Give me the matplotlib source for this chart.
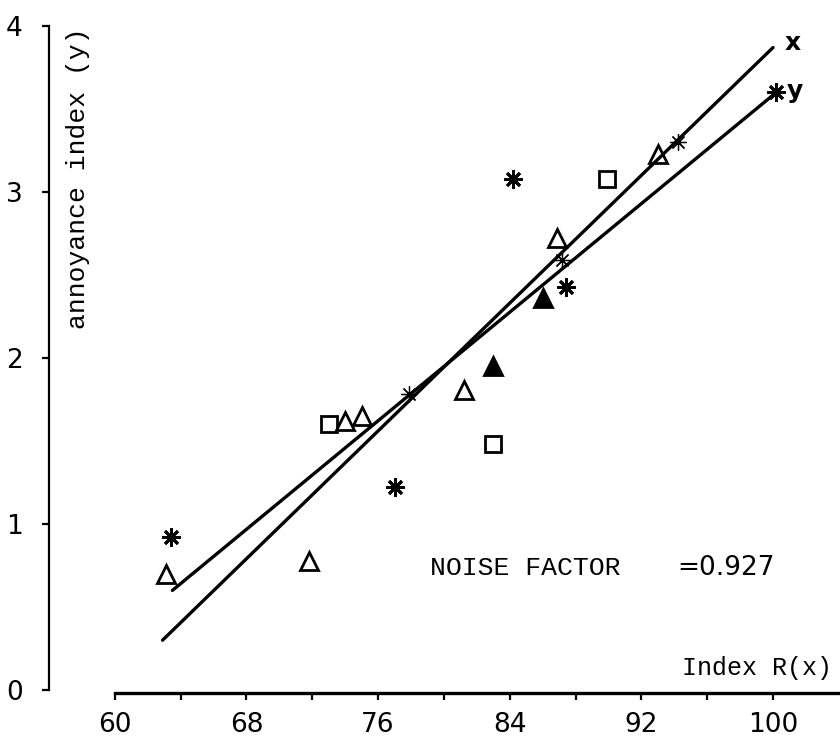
import matplotlib
matplotlib.use("Agg")
import matplotlib.pyplot as plt

# points
tri_x = [63.1, 71.8, 74.0, 75.0, 81.2, 86.9, 93.0]
tri_y = [0.70, 0.78, 1.62, 1.65, 1.81, 2.72, 3.23]
tri_fill_x = [83.0, 86.0]
tri_fill_y = [1.95, 2.36]
sq_x = [73.0, 83.0, 89.9]
sq_y = [1.60, 1.48, 3.08]
star_x = [63.4, 77.0, 84.2, 87.4, 100.2]
star_y = [0.92, 1.22, 3.08, 2.43, 3.60]
star_lt_x = [77.9, 87.2, 94.2]
star_lt_y = [1.78, 2.59, 3.30]

# the two fitted lines
line_x_x = [62.9, 100.0]
line_x_y = [0.30, 3.87]
line_y_x = [63.5, 100.2]
line_y_y = [0.60, 3.60]

xticks = [60, 64, 68, 72, 76, 80, 84, 88, 92, 96, 100]
xticklabels = ["60", "", "68", "", "76", "", "84", "", "92", "", "100"]
yticks = [0, 1, 2, 3, 4]

fig = plt.figure(figsize=(8.4, 7.41), dpi=100)
ax = fig.add_axes([49 / 840, 1 - 693 / 741, 791 / 840, 683 / 741])
ax.set_xlim(56.0, 104.07)
ax.set_ylim(-0.018, 4.096)

ax.plot(line_x_x, line_x_y, color="black", lw=2.4, solid_capstyle="round")
ax.plot(line_y_x, line_y_y, color="black", lw=2.4, solid_capstyle="round")

ax.plot(tri_x, tri_y, ls="none", marker="^", ms=13, mfc="none", mec="black", mew=2)
ax.plot(tri_fill_x, tri_fill_y, ls="none", marker="^", ms=13, mfc="black", mec="black", mew=2)
ax.plot(sq_x, sq_y, ls="none", marker="s", ms=12, mfc="none", mec="black", mew=2)
ax.plot(star_x, star_y, ls="none", marker=(8, 2, 0), ms=13, mec="black", mew=2)
ax.plot(star_lt_x, star_lt_y, ls="none", marker=(8, 2, 0), ms=12, mec="black", mew=0.9)

for s in ["top", "right"]:
    ax.spines[s].set_visible(False)
ax.spines["left"].set_bounds(0, 4)
ax.spines["left"].set_linewidth(1.6)
ax.spines["bottom"].set_bounds(60, 104.07)
ax.spines["bottom"].set_linewidth(2.4)

ax.set_xticks(xticks)
ax.set_xticklabels(xticklabels)
ax.set_yticks(yticks)
ax.tick_params(axis="x", direction="out", length=5, width=1.6, pad=9, labelsize=19)
ax.tick_params(axis="y", direction="out", length=5, width=1.6, pad=14, labelsize=19)

mono = "Liberation Mono"
ax.text(57.75, 3.08, "annoyance index (y)", rotation=90, ha="center", va="center",
        family=mono, fontsize=19)
ax.text(94.45, 0.133, "Index R(x)", ha="left", va="center", family=mono, fontsize=18)
ax.text(79.15, 0.735, "NOISE FACTOR", ha="left", va="center", family=mono, fontsize=19)
ax.text(94.2, 0.735, "=0.927", ha="left", va="center", fontsize=19)
ax.text(101.2, 3.90, "x", ha="center", va="center", fontsize=18, fontweight="bold")
ax.text(101.3, 3.61, "y", ha="center", va="center", fontsize=18, fontweight="bold")

fig.savefig("out.png", dpi=100)
